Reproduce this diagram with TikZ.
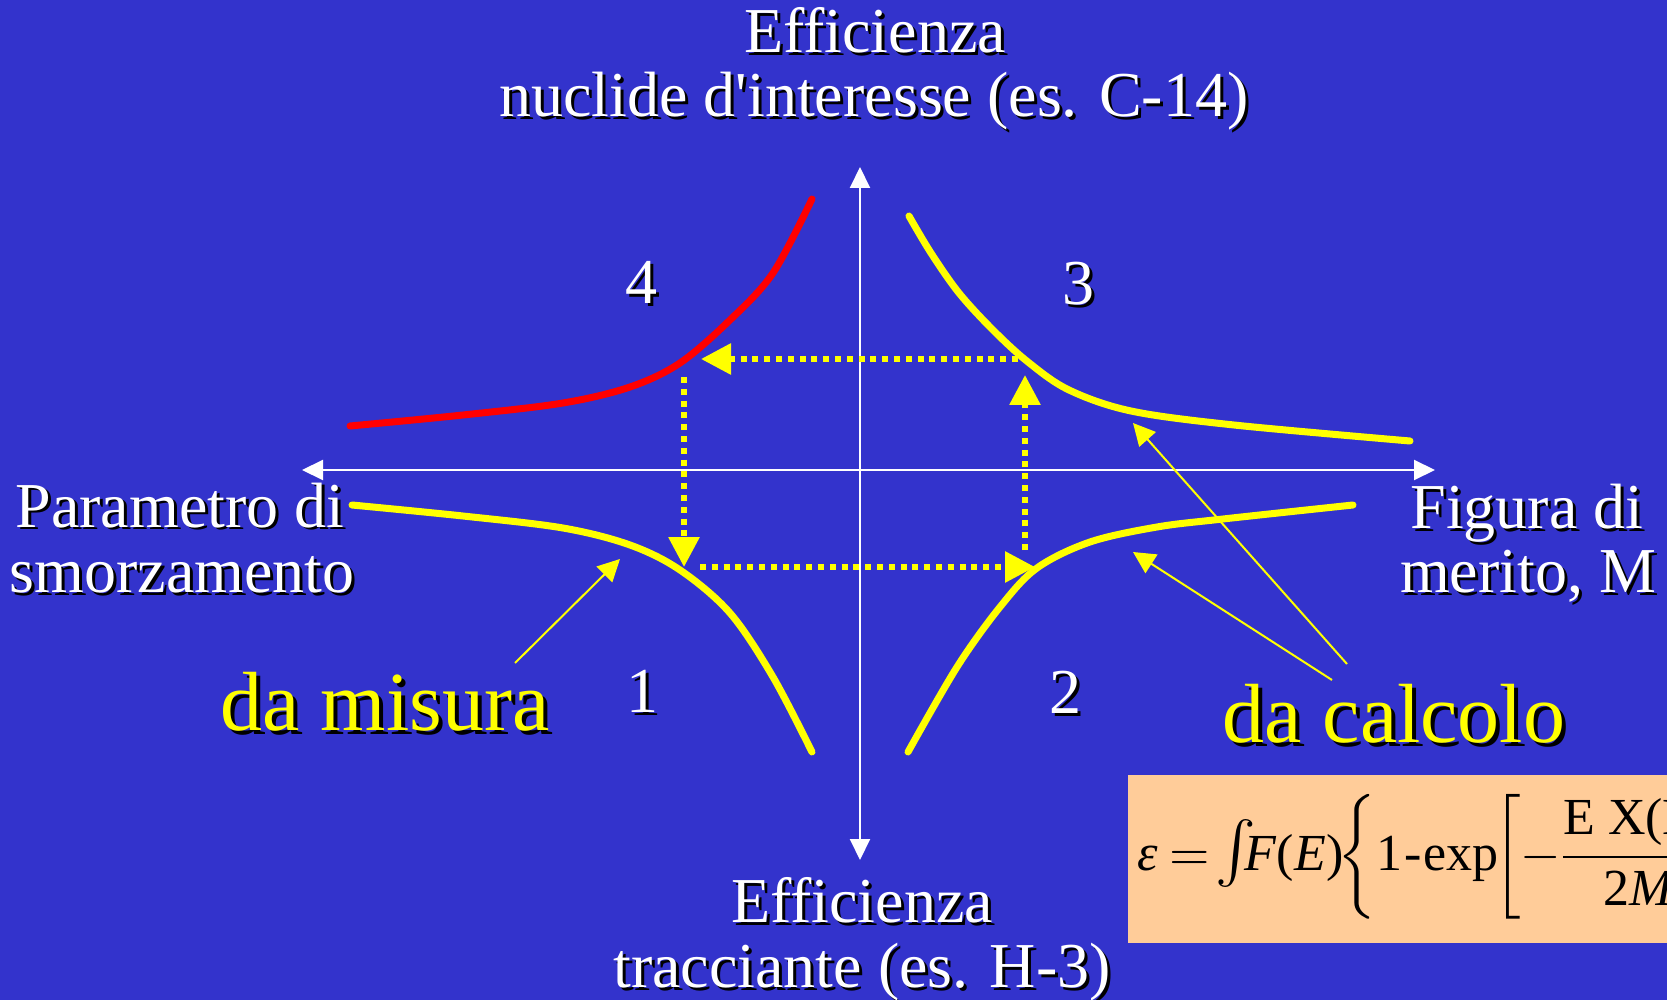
\documentclass[tikz,border=0pt]{standalone}
\usepackage{mathptmx}
\usepackage{fontspec}
\setmainfont{Liberation Serif}
\usetikzlibrary{arrows.meta}
\definecolor{bgblue}{RGB}{51,51,204}
\definecolor{peach}{RGB}{255,204,153}
\definecolor{yel}{RGB}{255,255,0}
\definecolor{redc}{RGB}{255,0,0}
% name, x,y, style, colour, text
\newcommand\shnode[5]{%
  \node[#3, text=black] (#1-sh) at ([shift={(3,3)}]#2) {#5};
  \node[#3, text=#4] (#1) at (#2) {#5};}
\newcommand\shbig[5]{%
  \node[#3, text=black] (#1-sh) at ([shift={(4,4)}]#2) {#5};
  \node[#3, text=#4] (#1) at (#2) {#5};}
\tikzset{
  lbl/.style={anchor=base, inner sep=0pt, font=\fontsize{32}{36}\selectfont},
  bigl/.style={anchor=base west, inner sep=0pt, font=\fontsize{42}{48}\selectfont},
  axis/.style={draw=white, line width=1pt,
    {Triangle[length=10.5pt,width=10pt]}-{Triangle[length=10.5pt,width=10pt]}},
  curve/.style={line width=3.5pt, line cap=round},
  dasharrow/.style={draw=yel, line width=3pt, dash pattern=on 3pt off 2.9pt,
    -{Triangle[length=15pt,width=15pt]}},
  pointer/.style={draw=yel, line width=1pt, -{Triangle[length=11pt,width=11pt]}}
}
\begin{document}
\begin{tikzpicture}[x=0.5pt, y=-0.5pt]
\useasboundingbox (0,0) rectangle (1667,1000);
\fill[bgblue] (0,0) rectangle (1667,1000);

% axes
\coordinate (axL) at (302,470);
\coordinate (axR) at (1435,470);
\coordinate (axT) at (860,167);
\coordinate (axB) at (860,860);
\draw[axis] (axL) -- (axR);
\draw[axis] (axT) -- (axB);

% curves
\draw[curve, draw=redc] plot[smooth, tension=0.55] coordinates {
  (350,426) (463,415) (563,403) (630,387) (680,363) (730,320) (773,273) (812,199)};
\draw[curve, draw=yel] plot[smooth, tension=0.55] coordinates {
  (909,216) (931,253) (959,293) (993,330) (1028,362) (1069,390) (1131,411) (1234,425) (1410,441)};
\draw[curve, draw=yel] plot[smooth, tension=0.55] coordinates {
  (352,505) (463,516) (563,528) (630,545) (680,570) (730,613) (773,677) (812,752)};
\draw[curve, draw=yel] plot[smooth, tension=0.55] coordinates {
  (908,752) (957,667) (1000,607) (1037,568) (1090,542) (1157,527) (1223,519) (1353,505)};

% dotted arrows
\coordinate (d3) at (1018,359);
\coordinate (d4) at (701,359);
\coordinate (d4b) at (684,377);
\coordinate (d1) at (684,567);
\coordinate (d1b) at (700,567);
\coordinate (d2) at (1035,567);
\coordinate (d2b) at (1025,550);
\coordinate (d3b) at (1025,375);
\draw[dasharrow] (d3) -- (d4);
\draw[dasharrow] (d4b) -- (d1);
\draw[dasharrow] (d1b) -- (d2);
\draw[dasharrow] (d2b) -- (d3b);

% pointers
\coordinate (pm0) at (515,663);
\coordinate (pm1) at (620,559);
\coordinate (pc0) at (1332,680);
\coordinate (pc1) at (1133,552);
\coordinate (pc2) at (1347,664);
\coordinate (pc3) at (1133,423);
\draw[pointer] (pm0) -- (pm1);
\draw[pointer] (pc0) -- (pc1);
\draw[pointer] (pc2) -- (pc3);

% labels
\shnode{t1}{875,53}{lbl}{white}{Efficienza}
\shnode{t2}{874,117}{lbl}{white}{nuclide d\textquotesingle interesse (es. C-14)}
\shnode{b1}{862,922}{lbl}{white}{Efficienza}
\shnode{b2}{862,987}{lbl}{white}{tracciante (es. H-3)}
\shnode{l1}{180,527}{lbl}{white}{Parametro di}
\shnode{l2}{182,592}{lbl}{white}{smorzamento}
\shnode{r1}{1527,528}{lbl}{white}{Figura di}
\shnode{r2}{1528,592}{lbl}{white}{merito, M}
\shnode{n4}{641,304}{lbl}{white}{4}
\shnode{n3}{1078,305}{lbl}{white}{3}
\shnode{n1}{642,712}{lbl}{white}{1}
\shnode{n2}{1065,713}{lbl}{white}{2}
\shbig{mis}{220,730}{bigl}{yel}{da misura}
\shbig{cal}{1222,742}{bigl}{yel}{da calcolo}

% formula box
\begin{scope}
\clip (0,0) rectangle (1667,1000);
\fill[peach] (1128,775) rectangle (1700,943);
\node[anchor=base west, inner sep=0pt, text=black, font=\fontsize{26}{30}\selectfont]
  (formula) at (1137,870)
  {$\mbox{\itshape ε} =\!\mbox{\fontsize{34}{34}\selectfont$\int$}\!\!\mbox{\itshape F\/\upshape(\itshape E\/\upshape)}\!\!\left\{\mbox{1\kern1pt-\kern1pt exp}\!\!\left[-\displaystyle\frac{\mbox{E X(E)}}{\mbox{2\itshape M}}\right]\right\}$};
\end{scope}
\end{tikzpicture}
\end{document}
